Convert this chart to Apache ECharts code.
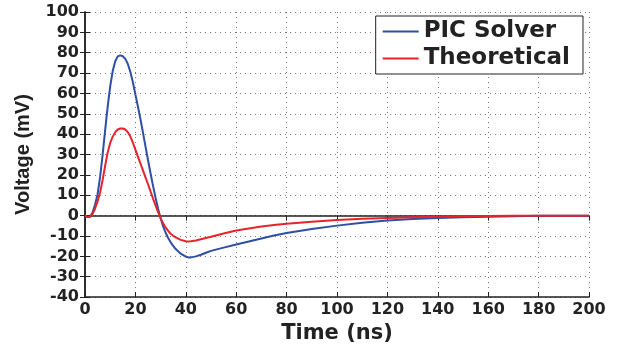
<!DOCTYPE html>
<html>
<head>
<meta charset="utf-8">
<script src="https://cdn.jsdelivr.net/npm/echarts@6/dist/echarts.min.js"></script>
<style>
  html, body { margin: 0; padding: 0; background: #fff; }
  #chart { width: 617px; height: 349px; }
</style>
</head>
<body>
<div id="chart"></div>
<script>
// time samples (ns)
const times = [0, 1, 2, 3, 4, 5, 6, 7, 8, 9, 10, 11, 12, 13, 14, 15, 16, 17, 18, 19, 20,
  21, 22, 23, 24, 25, 26, 27, 28, 29, 30, 31, 32, 33, 34, 35, 36, 38, 40, 41, 42, 44, 46, 48, 50,
  55, 60, 65, 70, 75, 80, 90, 100, 110, 120, 130, 140, 150, 160, 170, 180, 190, 200]

// PIC solver voltage (mV)
const picSolver = [0, -0.7, -0.5, 1.5, 5.5, 10.5, 19, 30, 42, 53.5, 63.5, 71, 75.8, 78.2, 78.7, 78.3, 77, 74.5, 70.5, 65.5, 59.5,
  53.6, 47.4, 40.8, 34, 27.3, 20.8, 14.6, 8.8, 3.4, -1.3, -5.3, -8.4, -11, -13.1, -14.9, -16.4, -18.7, -20.1, -20.5, -20.5, -20, -19.2, -18.2, -17.3,
  -15.7, -14.2, -12.7, -11.2, -9.8, -8.5, -6.6, -4.9, -3.5, -2.4, -1.7, -1.1, -0.8, -0.5, -0.3, -0.1, 0, 0]

// theoretical voltage (mV)
const theoretical = [0, -0.6, -0.6, 0.8, 3.5, 7, 11.5, 17.5, 24.5, 31, 35.7, 38.8, 41, 42.3, 42.8, 42.8, 42.3, 41, 38.8, 35.8, 32.4,
  29, 25.6, 22.2, 18.8, 15.4, 11.9, 8.4, 5, 1.7, -1.3, -3.8, -5.8, -7.5, -8.9, -9.9, -10.7, -11.9, -12.6, -12.7, -12.6, -12.2, -11.6, -11, -10.4,
  -8.8, -7.3, -6.3, -5.3, -4.6, -4, -3, -2.1, -1.5, -1.1, -0.8, -0.5, -0.3, -0.2, -0.1, 0, 0, 0]

const font = "DejaVu Sans"
const ink = "#222"

const chart = echarts.init(document.getElementById("chart"))

const pair = (ys) => times.map((t, i) => [t, ys[i]])

const boxAxis = {
  axisLine: { show: true, lineStyle: { color: ink, width: 1.5 } },
  axisTick: { show: true, inside: true, length: 5, lineStyle: { color: ink } },
  axisLabel: { show: false },
  splitLine: { show: false }
}

chart.setOption({
  animation: false,
  backgroundColor: "#fff",
  grid: { left: 85, right: 28, top: 12, bottom: 51 },
  legend: {
    orient: "vertical",
    right: 34,
    top: 16,
    padding: [4, 13, 4, 7],
    itemGap: 4,
    itemWidth: 36,
    itemHeight: 2,
    icon: "rect",
    backgroundColor: "#fff",
    borderColor: ink,
    borderWidth: 1,
    textStyle: { fontFamily: font, fontWeight: "bold", fontSize: 23, color: ink },
    data: ["PIC Solver", "Theoretical"]
  },
  xAxis: [{
    type: "value",
    min: 0, max: 200, interval: 20,
    name: "Time (ns)",
    nameLocation: "middle",
    nameGap: 25,
    nameTextStyle: { fontFamily: font, fontWeight: "bold", fontSize: 21, color: ink },
    axisLine: { show: true, onZero: false, lineStyle: { color: ink, width: 1.5 } },
    axisTick: { show: true, inside: true, length: 5, lineStyle: { color: ink } },
    axisLabel: { fontFamily: font, fontWeight: "bold", fontSize: 16, color: ink, margin: 5 },
    splitLine: { show: true, lineStyle: { color: "#777", type: [1, 4], width: 1 } }
  }, Object.assign({ type: "value", min: 0, max: 200, interval: 20, position: "top" }, boxAxis)],
  yAxis: [{
    type: "value",
    min: -40, max: 100, interval: 10,
    name: "Voltage (mV)",
    nameLocation: "middle",
    nameGap: 52,
    nameTextStyle: { fontFamily: "Liberation Sans", fontWeight: "bold", fontSize: 20, color: ink },
    axisLine: { show: true, onZero: false, lineStyle: { color: ink, width: 1.5 } },
    axisTick: { show: true, inside: true, length: 5, lineStyle: { color: ink } },
    axisLabel: { fontFamily: font, fontWeight: "bold", fontSize: 16, color: ink, margin: 6 },
    splitLine: { show: true, lineStyle: { color: "#777", type: [1, 4], width: 1 } }
  }, Object.assign({ type: "value", min: -40, max: 100, interval: 10, position: "right" }, boxAxis)],
  series: [{
    name: "PIC Solver",
    type: "line",
    data: pair(picSolver),
    showSymbol: false,
    lineStyle: { color: "#2f4fa6", width: 2 },
    itemStyle: { color: "#2f4fa6" }
  }, {
    name: "Theoretical",
    type: "line",
    data: pair(theoretical),
    showSymbol: false,
    lineStyle: { color: "#e8232b", width: 2 },
    itemStyle: { color: "#e8232b" }
  }]
})
</script>
</body>
</html>
